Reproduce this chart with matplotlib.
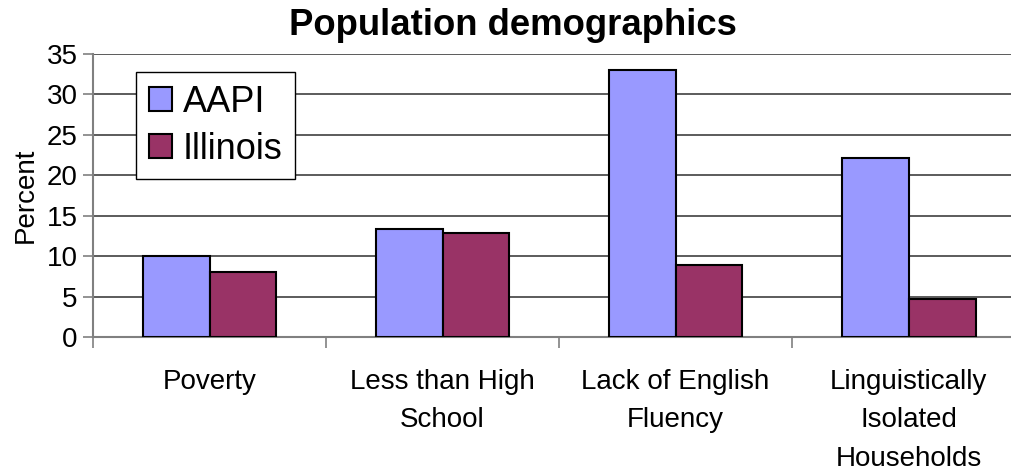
import numpy as np
import matplotlib.pyplot as plt

plt.rcParams['font.family'] = ['Liberation Sans', 'DejaVu Sans']

# Datos
categorias = ['Poverty', 'Less than High\nSchool', 'Lack of English\nFluency',
              'Linguistically\nIsolated\nHouseholds']
aapi = [10.0, 13.4, 33.0, 22.1]
illinois = [8.1, 12.85, 8.85, 4.7]
series = ['AAPI', 'Illinois']

x = np.arange(len(categorias))
w = 0.287

fig = plt.figure(figsize=(10.11, 4.7), dpi=100)
ax = fig.add_axes([0.092, 0.283, 0.922, 0.602])

ax.bar(x - w/2, aapi, w, color='#9999FF', edgecolor='black', linewidth=1.5, label=series[0], zorder=3)
ax.bar(x + w/2, illinois, w, color='#993366', edgecolor='black', linewidth=1.5, label=series[1], zorder=3)

ax.set_xlim(-0.5, 3.5)
ax.set_ylim(0, 35)
ax.set_yticks(np.arange(0, 36, 5))
ax.yaxis.grid(True, color='#404040', linewidth=1.2, zorder=0)
ax.set_axisbelow(True)

# ticks de categoria en los limites
ax.set_xticks(np.arange(-0.5, 3.6, 1))
ax.set_xticklabels([])
ax.set_xticks(x, minor=True)
ax.set_xticklabels(categorias, minor=True, fontsize=20, linespacing=1.62)
ax.tick_params(axis='x', which='minor', length=0, pad=23)
ax.tick_params(axis='x', which='major', length=8, color='#808080', width=1.2)
ax.tick_params(axis='y', length=7, color='#808080', width=1.2, labelsize=20, pad=4)

for s in ['top', 'right']:
    ax.spines[s].set_visible(False)
for s in ['left', 'bottom']:
    ax.spines[s].set_color('#808080')
    ax.spines[s].set_linewidth(1.5)

ax.set_ylabel('Percent', fontsize=20, labelpad=6)
fig.text(0.507, 0.925, 'Population demographics', fontsize=26.3, fontweight='bold',
         ha='center', va='baseline')

leg = ax.legend(loc='upper left', bbox_to_anchor=(0.046, 0.935), fontsize=26,
                frameon=True, fancybox=False, shadow=False, borderaxespad=0,
                handlelength=0.65, handleheight=0.65, handletextpad=0.3,
                labelspacing=0.32, borderpad=0.35)
leg.get_frame().set_edgecolor('black')
leg.get_frame().set_linewidth(1.0)
leg.get_frame().set_alpha(1)

fig.savefig('out.png', dpi=100)
